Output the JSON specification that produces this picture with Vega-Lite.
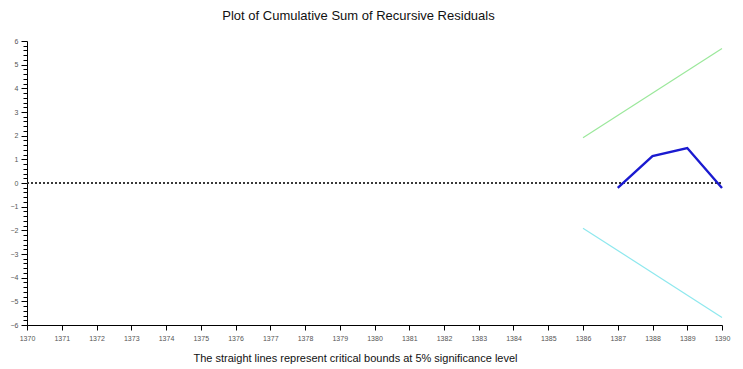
{
  "$schema": "https://vega.github.io/schema/vega-lite/v6.json",
  "width": 695,
  "height": 284,
  "autosize": {"type": "none"},
  "padding": {"left": 27, "top": 41, "right": 21, "bottom": 44},
  "background": "white",
  "config": {
    "view": {"stroke": null},
    "font": "Liberation Sans"
  },
  "title": {
    "text": "Plot of Cumulative Sum of Recursive Residuals",
    "fontSize": 13,
    "fontWeight": "normal",
    "font": "Liberation Sans",
    "color": "#111111",
    "anchor": "middle",
    "dx": -16,
    "offset": 14
  },
  "data": {
    "values": [
      {"year": 1386, "value": 1.91, "series": "Upper bound"},
      {"year": 1390, "value": 5.68, "series": "Upper bound"},
      {"year": 1386, "value": -1.91, "series": "Lower bound"},
      {"year": 1390, "value": -5.68, "series": "Lower bound"},
      {"year": 1387, "value": -0.21, "series": "CUSUM"},
      {"year": 1388, "value": 1.14, "series": "CUSUM"},
      {"year": 1389, "value": 1.48, "series": "CUSUM"},
      {"year": 1390, "value": -0.21, "series": "CUSUM"}
    ]
  },
  "encoding": {
    "x": {
      "field": "year",
      "type": "quantitative",
      "scale": {"domain": [1370, 1390], "nice": false, "zero": false},
      "axis": {
        "values": [1370,1371,1372,1373,1374,1375,1376,1377,1378,1379,1380,1381,1382,1383,1384,1385,1386,1387,1388,1389,1390],
        "format": "d",
        "grid": false,
        "domainColor": "black",
        "tickColor": "black",
        "tickSize": 5,
        "labelFontSize": 7,
        "labelColor": "#555555",
        "labelPadding": 4,
        "labelFlush": false,
        "labelOverlap": false,
        "title": "The straight lines represent critical bounds at 5% significance level",
        "titleFontSize": 11,
        "titleFontWeight": "normal",
        "titleColor": "#111111",
        "titleX": 328,
        "titleY": 36,
        "titleBaseline": "alphabetic"
      }
    },
    "y": {
      "field": "value",
      "type": "quantitative",
      "scale": {"domain": [-6, 6], "nice": false},
      "axis": {
        "values": [-6,-5.8,-5.6,-5.4,-5.2,-5,-4.8,-4.6,-4.4,-4.2,-4,-3.8,-3.6,-3.4,-3.2,-3,-2.8,-2.6,-2.4,-2.2,-2,-1.8,-1.6,-1.4,-1.2,-1,-0.8,-0.6,-0.4,-0.2,0,0.2,0.4,0.6,0.8,1,1.2,1.4,1.6,1.8,2,2.2,2.4,2.6,2.8,3,3.2,3.4,3.6,3.8,4,4.2,4.4,4.6,4.8,5,5.2,5.4,5.6,5.8,6],
        "labelExpr": "abs(datum.value-round(datum.value))<0.001 ? format(round(datum.value),'d') : ''",
        "tickSize": {"condition": {"test": "abs(datum.value-round(datum.value))<0.001", "value": 6}, "value": 4},
        "grid": false,
        "domainColor": "black",
        "tickColor": "black",
        "labelFontSize": 7,
        "labelColor": "#555555",
        "labelPadding": 3,
        "labelFlush": false,
        "labelOverlap": false,
        "title": null
      }
    }
  },
  "layer": [
    {
      "mark": {"type": "rule", "color": "#333333", "strokeDash": [2, 2], "strokeWidth": 0.7},
      "encoding": {
        "x": {"datum": 1370, "type": "quantitative"},
        "x2": {"datum": 1390},
        "y": {"datum": 0, "type": "quantitative"}
      }
    },
    {
      "transform": [{"filter": "datum.series !== 'CUSUM'"}],
      "mark": {"type": "line", "strokeWidth": 1.2},
      "encoding": {
        "color": {
          "field": "series",
          "type": "nominal",
          "scale": {"domain": ["Upper bound", "Lower bound", "CUSUM"], "range": ["#9be89b", "#8ee8ee", "#1a1ad0"]},
          "legend": null
        }
      }
    },
    {
      "transform": [{"filter": "datum.series === 'CUSUM'"}],
      "mark": {"type": "line", "strokeWidth": 2.4, "color": "#1a1ad0"},
      "encoding": {}
    }
  ]
}
